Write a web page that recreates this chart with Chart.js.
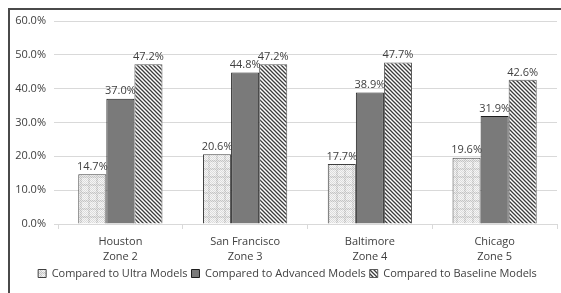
<!DOCTYPE html>
<html>
<head>
<meta charset="utf-8">
<script src="https://cdn.jsdelivr.net/npm/chart.js@4.4.1/dist/chart.umd.min.js"></script>
<style>
html,body{margin:0;padding:0;background:#fff;overflow:hidden;}
#wrap{position:relative;width:561px;height:293px;}
#frame{position:absolute;left:8px;top:8px;width:600px;height:400px;border-left:2px solid #4a4a4a;border-top:2px solid #4a4a4a;pointer-events:none;}
</style>
</head>
<body>
<div id="wrap">
<canvas id="c" width="561" height="293"></canvas>
<div id="frame"></div>
</div>
<script>
const categories = [["Houston","Zone 2"],["San Francisco","Zone 3"],["Baltimore","Zone 4"],["Chicago","Zone 5"]];
const seriesNames = ["Compared to Ultra Models","Compared to Advanced Models","Compared to Baseline Models"];
const ultraValues = [14.7, 20.6, 17.7, 19.6];
const advancedValues = [37.0, 44.8, 38.9, 31.9];
const baselineValues = [47.2, 47.2, 47.7, 42.6];
const yTicks = [0, 10, 20, 30, 40, 50, 60];

function makeUltraPattern(){
  const c = document.createElement('canvas'); c.width = 8; c.height = 8;
  const g = c.getContext('2d');
  for(let y=0;y<8;y++){for(let x=0;x<8;x++){
    let col;
    const band = (x<2)||(y<2);
    if(band){ col = ((x+y)%2===0) ? '#c4c4c4' : '#e8e8e8'; }
    else { col = ((x+y)%2===0) ? '#dcdcdc' : '#f6f6f6'; }
    g.fillStyle = col; g.fillRect(x,y,1,1);
  }}
  return g.createPattern(c,'repeat');
}
function makeStripePattern(){
  const s = 4;
  const c = document.createElement('canvas'); c.width = s; c.height = s;
  const g = c.getContext('2d');
  g.fillStyle = '#ffffff'; g.fillRect(0,0,s,s);
  g.strokeStyle = '#3c3c3c'; g.lineWidth = 1.3;
  g.beginPath();
  g.moveTo(-1,-1); g.lineTo(s+1,s+1);
  g.moveTo(-1,s-1); g.lineTo(1,s+1);
  g.moveTo(s-1,-1); g.lineTo(s+1,1);
  g.stroke();
  return g.createPattern(c,'repeat');
}

const valueLabels = {
  id: 'valueLabels',
  afterDatasetsDraw(chart){
    const ctx = chart.ctx;
    ctx.save();
    ctx.font = '11px "Open Sans", sans-serif';
    ctx.fillStyle = '#404040';
    ctx.textAlign = 'center';
    ctx.textBaseline = 'bottom';
    chart.data.datasets.forEach((ds, di) => {
      const meta = chart.getDatasetMeta(di);
      meta.data.forEach((bar, i) => {
        ctx.fillText(ds.data[i].toFixed(1) + '%', bar.x, bar.y - 2);
      });
    });
    ctx.restore();
  }
};

const shiftLegend = {
  id: 'shiftLegend',
  afterLayout(chart){
    if (chart.legend) { chart.legend.left += 9; chart.legend.right += 9; }
  }
};

Chart.defaults.font.family = '"Open Sans", sans-serif';
Chart.defaults.font.size = 11;
Chart.defaults.color = '#404040';

new Chart(document.getElementById('c'), {
  type: 'bar',
  data: {
    labels: categories,
    datasets: [
      {label: seriesNames[0], data: ultraValues, backgroundColor: makeUltraPattern(), borderColor: '#404040', borderWidth: 1},
      {label: seriesNames[1], data: advancedValues, backgroundColor: '#7a7a7a', borderColor: '#1e1e1e', borderWidth: 1},
      {label: seriesNames[2], data: baselineValues, backgroundColor: makeStripePattern(), borderColor: '#595959', borderWidth: 1}
    ]
  },
  options: {
    responsive: false,
    animation: false,
    layout: {padding: {left: 0, right: 4, top: 21, bottom: 4}},
    datasets: {bar: {categoryPercentage: 0.675, barPercentage: 1.0}},
    plugins: {
      legend: {
        position: 'bottom',
        labels: {boxWidth: 8, boxHeight: 8, padding: 4, color: '#404040', font: {size: 11}}
      },
      tooltip: {enabled: false}
    },
    scales: {
      x: {
        grid: {drawOnChartArea: false, drawTicks: true, tickLength: 5, color: '#d9d9d9', offset: true},
        border: {color: '#d9d9d9'},
        ticks: {padding: 5, color: '#404040', font: {size: 11, lineHeight: 1.4}, maxRotation: 0, autoSkip: false},
        afterFit(scale){ scale.height = 40; }
      },
      y: {
        min: 0, max: 60,
        afterBuildTicks(scale){ scale.ticks = yTicks.map(v => ({value: v})); },
        grid: {color: '#d9d9d9', tickLength: 4},
        border: {display: false},
        ticks: {padding: 8, color: '#404040', callback: v => v.toFixed(1) + '%'},
        afterFit(scale){ scale.width = 58; }
      }
    }
  },
  plugins: [valueLabels, shiftLegend]
});
</script>
</body>
</html>
